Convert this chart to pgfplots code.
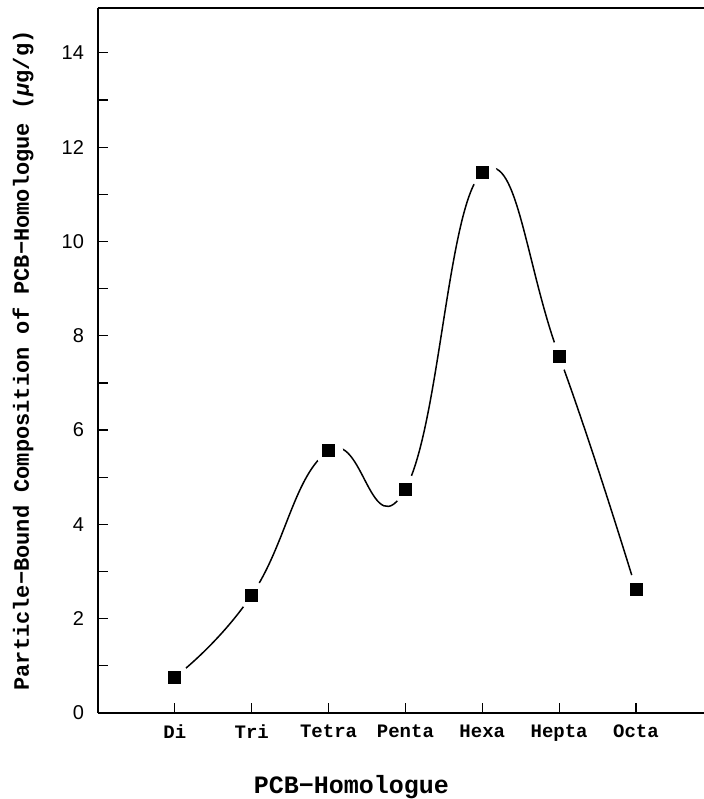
\documentclass[border=0pt]{standalone}
\usepackage{fontspec}
\usepackage{pgfplots}
\usepackage{pgfplotstable}
\pgfplotsset{compat=1.18}
\setmainfont{Liberation Mono}
\newfontfamily\numfont{Liberation Sans}
\pgfplotstableread{
x y
1 0.76
2 2.50
3 5.56
4 4.75
5 11.46
6 7.57
7 2.63
}\datatable
\begin{document}
\begin{tikzpicture}
\begin{axis}[at={(0,0)}, anchor=south west, scale only axis,
 width=303pt, height=352.5pt,
 xmin=0, xmax=7.885, ymin=0, ymax=14.95,
 axis x line*=bottom, axis y line*=left,
 axis line style={line width=1.4pt},
 xtick={1,...,7}, xticklabels={Di,Tri,Tetra,Penta,Hexa,Hepta,Octa},
 ytick={0,2,...,14}, minor ytick={1,3,...,13},
 tick align=inside, major tick length=5pt, minor tick length=5pt,
 every tick/.style={line width=0.6pt, black},
 /pgf/number format/assume math mode=true,
 y tick label style={font=\numfont\fontsize{10}{10}\selectfont, xshift=-3.5pt},
 x tick label style={font=\bfseries\fontsize{9.5}{10}\selectfont, yshift=-2.5pt},
 xlabel={PCB−Homologue},
 xlabel style={font=\bfseries\fontsize{12.5}{13}\selectfont, at={(axis description cs:0.418,0)}, anchor=center, yshift=-37pt},
 ylabel={Particle−Bound Composition of PCB−Homologue ({\itshape μ}g/g)},
 ylabel style={font=\bfseries\fontsize{11}{12}\selectfont, at={(axis description cs:0,0.5)}, anchor=center, yshift=37.5pt},
]
\addplot[black, line width=0.75pt, smooth, tension=0.8] table[x=x,y=y] {\datatable};
\addplot[only marks, mark=*, mark size=7pt, white] table[x=x,y=y] {\datatable};
\addplot[only marks, mark=square*, mark size=3pt, black] table[x=x,y=y] {\datatable};
\draw[line width=1pt] (rel axis cs:0,1) -- (rel axis cs:1,1);
\end{axis}
\pgfresetboundingbox
\path (-49pt,-43pt) rectangle (303pt,356.5pt);
\end{tikzpicture}
\end{document}
